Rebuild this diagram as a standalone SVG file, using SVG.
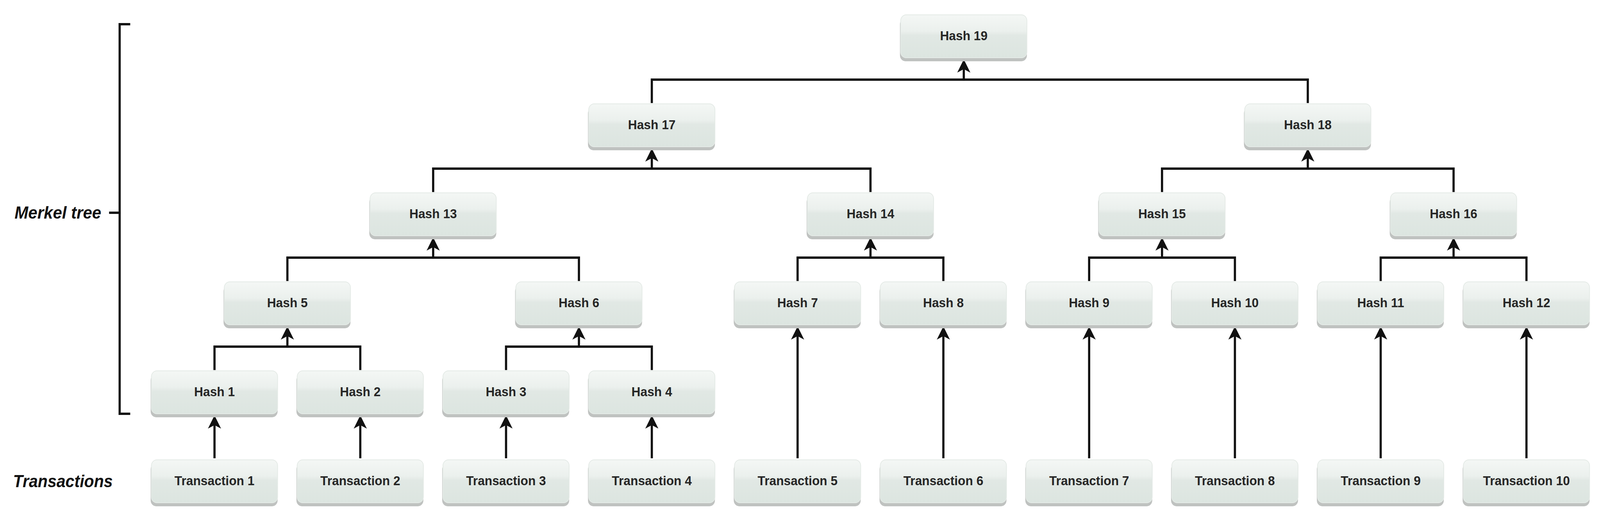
<svg xmlns="http://www.w3.org/2000/svg" xmlns:xlink="http://www.w3.org/1999/xlink" width="4386" height="1327" viewBox="0 0 4386 1327" preserveAspectRatio="none" style="width:100vw;height:100vh;display:block">
<style>
.bg{fill:#ffffff}
.sh{fill:#bfc2c0}
.bx{fill:url(#gr);stroke:#e4eae6;stroke-width:2}
.lbl{font-family:"Liberation Sans",Arial,sans-serif;font-size:34px;font-weight:bold;fill:#262626;text-anchor:middle}
.side{font-family:"Liberation Sans",Arial,sans-serif;font-weight:bold;font-style:italic;fill:#111111}
.ln{fill:none;stroke:#111111;stroke-width:6}
.ar{fill:none;stroke:#111111;stroke-width:6;marker-end:url(#arr)}
</style>
<defs>
<linearGradient id="gr" x1="0" y1="0" x2="0" y2="1">
<stop offset="0" stop-color="#f4f7f5"/>
<stop offset="0.38" stop-color="#ebf0ed"/>
<stop offset="0.48" stop-color="#e1e8e4"/>
<stop offset="1" stop-color="#dce5e0"/>
</linearGradient>
<marker id="arr" markerUnits="userSpaceOnUse" markerWidth="34" markerHeight="36" viewBox="0 0 34 36" refX="10" refY="18" orient="auto">
<path d="M0,0 L34,18 L0,36 L9,18 Z" fill="#111111"/>
</marker>
<g id="box">
<rect class="sh" x="-2" y="9" width="348" height="110" rx="15"/>
<rect class="bx" x="0" y="0" width="346" height="110" rx="15"/>
</g>
</defs>
<rect class="bg" x="0" y="0" width="4386" height="1327"/>

<g id="side-labels">
<path class="ln" d="M357,62 H328 V1060 H357 M299,545 H328"/>
<text class="side" x="40" y="560" font-size="45">Merkel tree</text>
<text class="side" x="36" y="1248" font-size="44">Transactions</text>
</g>

<g id="connectors">
<path class="ln" d="M588,948 V888 H987.6 V948"/>
<path class="ar" d="M787.8,888 V860"/>
<path class="ln" d="M1387.2,948 V888 H1786.8 V948"/>
<path class="ar" d="M1587,888 V860"/>
<path class="ln" d="M787.8,720 V660 H1587 V720"/>
<path class="ar" d="M1187.4,660 V632"/>
<path class="ln" d="M2186.4,720 V660 H2586 V720"/>
<path class="ar" d="M2386.2,660 V632"/>
<path class="ln" d="M2985.6,720 V660 H3385.2 V720"/>
<path class="ar" d="M3185.4,660 V632"/>
<path class="ln" d="M3784.8,720 V660 H4184.4 V720"/>
<path class="ar" d="M3984.6,660 V632"/>
<path class="ln" d="M1187.4,492 V432 H2386.2 V492"/>
<path class="ar" d="M1786.8,432 V404"/>
<path class="ln" d="M3185.4,492 V432 H3984.6 V492"/>
<path class="ar" d="M3585,432 V404"/>
<path class="ln" d="M1786.8,264 V204 H3585 V264"/>
<path class="ar" d="M2642,204 V176"/>
<path class="ar" d="M588,1174 V1088"/>
<path class="ar" d="M987.6,1174 V1088"/>
<path class="ar" d="M1387.2,1174 V1088"/>
<path class="ar" d="M1786.8,1174 V1088"/>
<path class="ar" d="M2186.4,1174 V860"/>
<path class="ar" d="M2586,1174 V860"/>
<path class="ar" d="M2985.6,1174 V860"/>
<path class="ar" d="M3385.2,1174 V860"/>
<path class="ar" d="M3784.8,1174 V860"/>
<path class="ar" d="M4184.4,1174 V860"/>
</g>

<g id="hash19"><use xlink:href="#box" x="2469" y="38"/><text class="lbl" x="2642" y="103">Hash 19</text></g>
<g id="hash17"><use xlink:href="#box" x="1613.8" y="266"/><text class="lbl" x="1786.8" y="331">Hash 17</text></g>
<g id="hash18"><use xlink:href="#box" x="3412" y="266"/><text class="lbl" x="3585" y="331">Hash 18</text></g>
<g id="hash13"><use xlink:href="#box" x="1014.4" y="494"/><text class="lbl" x="1187.4" y="559">Hash 13</text></g>
<g id="hash14"><use xlink:href="#box" x="2213.2" y="494"/><text class="lbl" x="2386.2" y="559">Hash 14</text></g>
<g id="hash15"><use xlink:href="#box" x="3012.4" y="494"/><text class="lbl" x="3185.4" y="559">Hash 15</text></g>
<g id="hash16"><use xlink:href="#box" x="3811.6" y="494"/><text class="lbl" x="3984.6" y="559">Hash 16</text></g>
<g id="hash5"><use xlink:href="#box" x="614.8" y="722"/><text class="lbl" x="787.8" y="787">Hash 5</text></g>
<g id="hash6"><use xlink:href="#box" x="1414" y="722"/><text class="lbl" x="1587" y="787">Hash 6</text></g>
<g id="hash7"><use xlink:href="#box" x="2013.4" y="722"/><text class="lbl" x="2186.4" y="787">Hash 7</text></g>
<g id="hash8"><use xlink:href="#box" x="2413" y="722"/><text class="lbl" x="2586" y="787">Hash 8</text></g>
<g id="hash9"><use xlink:href="#box" x="2812.6" y="722"/><text class="lbl" x="2985.6" y="787">Hash 9</text></g>
<g id="hash10"><use xlink:href="#box" x="3212.2" y="722"/><text class="lbl" x="3385.2" y="787">Hash 10</text></g>
<g id="hash11"><use xlink:href="#box" x="3611.8" y="722"/><text class="lbl" x="3784.8" y="787">Hash 11</text></g>
<g id="hash12"><use xlink:href="#box" x="4011.4" y="722"/><text class="lbl" x="4184.4" y="787">Hash 12</text></g>
<g id="hash1"><use xlink:href="#box" x="415" y="950"/><text class="lbl" x="588" y="1015">Hash 1</text></g>
<g id="hash2"><use xlink:href="#box" x="814.6" y="950"/><text class="lbl" x="987.6" y="1015">Hash 2</text></g>
<g id="hash3"><use xlink:href="#box" x="1214.2" y="950"/><text class="lbl" x="1387.2" y="1015">Hash 3</text></g>
<g id="hash4"><use xlink:href="#box" x="1613.8" y="950"/><text class="lbl" x="1786.8" y="1015">Hash 4</text></g>
<g id="tx1"><use xlink:href="#box" x="415" y="1178"/><text class="lbl" x="588" y="1243">Transaction 1</text></g>
<g id="tx2"><use xlink:href="#box" x="814.6" y="1178"/><text class="lbl" x="987.6" y="1243">Transaction 2</text></g>
<g id="tx3"><use xlink:href="#box" x="1214.2" y="1178"/><text class="lbl" x="1387.2" y="1243">Transaction 3</text></g>
<g id="tx4"><use xlink:href="#box" x="1613.8" y="1178"/><text class="lbl" x="1786.8" y="1243">Transaction 4</text></g>
<g id="tx5"><use xlink:href="#box" x="2013.4" y="1178"/><text class="lbl" x="2186.4" y="1243">Transaction 5</text></g>
<g id="tx6"><use xlink:href="#box" x="2413" y="1178"/><text class="lbl" x="2586" y="1243">Transaction 6</text></g>
<g id="tx7"><use xlink:href="#box" x="2812.6" y="1178"/><text class="lbl" x="2985.6" y="1243">Transaction 7</text></g>
<g id="tx8"><use xlink:href="#box" x="3212.2" y="1178"/><text class="lbl" x="3385.2" y="1243">Transaction 8</text></g>
<g id="tx9"><use xlink:href="#box" x="3611.8" y="1178"/><text class="lbl" x="3784.8" y="1243">Transaction 9</text></g>
<g id="tx10"><use xlink:href="#box" x="4011.4" y="1178"/><text class="lbl" x="4184.4" y="1243">Transaction 10</text></g>
</svg>
